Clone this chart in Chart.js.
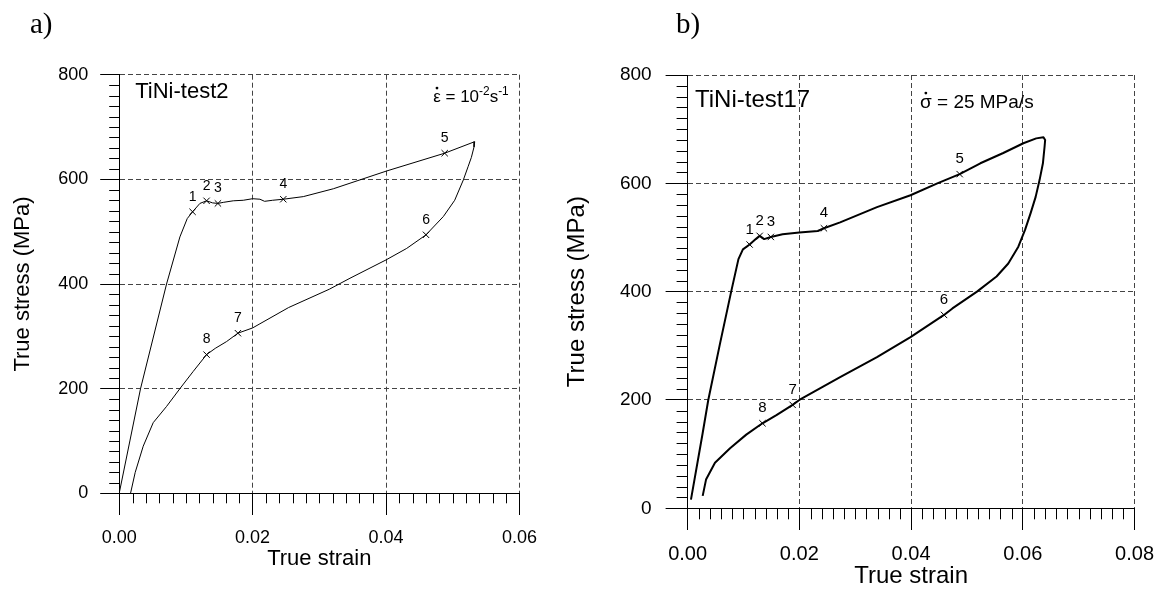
<!DOCTYPE html>
<html>
<head>
<meta charset="utf-8">
<script src="https://cdn.jsdelivr.net/npm/chart.js@4"></script>
<style>
  html, body { margin: 0; padding: 0; background: #fff; }
  body { width: 1166px; height: 591px; position: relative; overflow: hidden; }
  .panel { position: absolute; top: 0; height: 591px; }
</style>
</head>
<body>
<div class="panel" style="left:0;width:555px"><canvas id="chartA"></canvas></div>
<div class="panel" style="left:555px;width:611px"><canvas id="chartB"></canvas></div>
<script>
// values
const stressTicks = [0, 200, 400, 600, 800];
const strainTicksA = [0, 0.02, 0.04, 0.06];
const strainTicksB = [0, 0.02, 0.04, 0.06, 0.08];
const markLabels = ['1', '2', '3', '4', '5', '6', '7', '8'];

// TiNi-test2: loading then unloading loop
const strain2 = [0, 0.0016, 0.0032, 0.0071, 0.0091, 0.0102, 0.0110, 0.0121, 0.0131, 0.0140, 0.0148, 0.0156,
  0.0171, 0.0186, 0.0200, 0.0211, 0.0218, 0.0230, 0.0246, 0.0276, 0.0321, 0.0401, 0.0488, 0.0533,
  0.0532, 0.0528, 0.0523, 0.0516, 0.0503, 0.0486, 0.0460, 0.0431, 0.0400, 0.0346, 0.0315, 0.0254, 0.0211,
  0.0200, 0.0178, 0.0161, 0.0144, 0.0131, 0.0111, 0.0091, 0.0071, 0.0051, 0.0036, 0.0024, 0.0017];
const stress2 = [0, 100, 200, 400, 490, 525, 538, 554, 559, 555, 554, 556,
  559, 560, 563, 562, 558, 560, 562, 567, 582, 616, 650, 672,
  662, 642, 624, 599, 560, 529, 494, 468, 446, 411, 390, 355, 324,
  316, 306, 290, 277, 265, 233, 200, 166, 135, 90, 40, 0];
const markStrain2 = [0.0110, 0.0131, 0.0148, 0.0246, 0.0488, 0.0460, 0.0178, 0.0131];
const markStress2 = [538, 559, 554, 562, 650, 494, 306, 265];

// TiNi-test17
const strain17 = [0.0006, 0.0027, 0.0037, 0.0058, 0.0078, 0.0091, 0.0099, 0.0111, 0.0122, 0.0129, 0.0137,
  0.0149, 0.0170, 0.0200, 0.0233, 0.0244, 0.0273, 0.0339, 0.0399, 0.0447, 0.0487, 0.0524, 0.0565,
  0.0601, 0.0624, 0.0637, 0.0640, 0.0639, 0.0636, 0.0630, 0.0623, 0.0614, 0.0604, 0.0592, 0.0574,
  0.0553, 0.0518, 0.0474, 0.0459, 0.0399, 0.0339, 0.0273, 0.0200, 0.0188, 0.0159, 0.0134, 0.0105,
  0.0076, 0.0049, 0.0033, 0.0027];
const stress17 = [16, 139, 200, 304, 400, 460, 478, 487, 497, 503, 497,
  501, 506, 509, 512, 517, 528, 556, 578, 600, 617, 637, 656,
  674, 683, 685, 680, 668, 637, 606, 575, 545, 514, 483, 452,
  428, 400, 369, 357, 316, 279, 242, 200, 191, 172, 157, 136,
  111, 84, 53, 23];
const markStrain17 = [0.0111, 0.0129, 0.0149, 0.0244, 0.0487, 0.0459, 0.0188, 0.0134];
const markStress17 = [487, 503, 501, 517, 617, 357, 191, 157];

const FONT = "'Liberation Sans', Arial, sans-serif";
const SERIF = "'Liberation Serif', 'Times New Roman', serif";

const pts = (xs, ys) => xs.map((x, i) => ({ x, y: ys[i] }));

// minor ticks, panel tag, sample name, rate text, point numbers
const extras = {
  id: 'extras',
  afterDraw(chart, args, o) {
    const { ctx, chartArea: a, scales: { x, y } } = chart;
    ctx.save();
    ctx.strokeStyle = '#000';
    ctx.lineWidth = 1;
    ctx.beginPath();
    for (let k = 1; k < 40; k++) {
      if (k % 10 === 0) continue;
      const py = Math.round(y.getPixelForValue(k * 20)) + 0.5;
      ctx.moveTo(a.left - o.yMinor, py);
      ctx.lineTo(a.left, py);
    }
    const nx = Math.round(x.max / 0.002);
    for (let k = 1; k < nx; k++) {
      if (k % 10 === 0) continue;
      const px = Math.round(x.getPixelForValue(k * 0.002)) + 0.5;
      ctx.moveTo(px, a.bottom);
      ctx.lineTo(px, a.bottom + o.xMinor);
    }
    ctx.stroke();

    ctx.fillStyle = '#000';
    ctx.textBaseline = 'alphabetic';
    ctx.textAlign = 'left';
    ctx.font = `${o.tagSize}px ${SERIF}`;
    ctx.fillText(o.tag, o.tagX, 33);

    ctx.font = `${o.nameSize}px ${FONT}`;
    ctx.fillText(o.name, a.left + o.nameDx, a.top + o.nameDy);

    // rate text with dot accent and superscripts
    let cx = a.left + o.rateDx;
    const base = a.top + o.rateDy;
    o.rate.forEach(part => {
      const size = part.sup ? o.rateSize * 0.7 : o.rateSize;
      ctx.font = `${size}px ${FONT}`;
      const w = ctx.measureText(part.t).width;
      ctx.fillText(part.t, cx, part.sup ? base - o.rateSize * 0.42 : base);
      if (part.dot) {
        ctx.beginPath();
        ctx.arc(cx + w / 2, base - o.rateSize * 0.8, 1.4, 0, Math.PI * 2);
        ctx.fill();
      }
      cx += w;
    });

    ctx.font = `${o.markSize}px ${FONT}`;
    ctx.textAlign = 'center';
    ctx.textBaseline = 'middle';
    const meta = chart.getDatasetMeta(1);
    meta.data.forEach((el, i) => {
      ctx.fillText(markLabels[i], el.x, el.y - o.markDy);
    });
    ctx.restore();
  }
};

function makeChart(id, s) {
  return new Chart(document.getElementById(id), {
    type: 'scatter',
    data: {
      datasets: [
        {
          data: pts(s.strain, s.stress),
          showLine: true,
          borderColor: '#000',
          borderWidth: s.lineWidth,
          borderJoinStyle: 'round',
          pointRadius: 0,
          tension: 0,
        },
        {
          data: pts(s.markStrain, s.markStress),
          pointStyle: 'crossRot',
          pointRadius: 4.5,
          borderColor: '#000',
          backgroundColor: '#000',
          borderWidth: 1,
        },
      ],
    },
    options: {
      responsive: true,
      maintainAspectRatio: false,
      animation: false,
      devicePixelRatio: 1,
      layout: { padding: s.pad },
      plugins: { legend: { display: false }, tooltip: { enabled: false }, extras: s.extras },
      scales: {
        x: {
          type: 'linear',
          min: 0,
          max: s.xTicks[s.xTicks.length - 1],
          afterBuildTicks: sc => { sc.ticks = s.xTicks.map(value => ({ value })); },
          afterFit: sc => { sc.height = s.xHeight; },
          grid: { color: '#444', tickColor: '#000', tickLength: s.xTick, lineWidth: 1 },
          border: { display: true, color: '#000', width: 1, dash: [5, 3] },
          ticks: { color: '#000', padding: s.xPad, autoSkip: false, maxRotation: 0,
            font: { family: FONT, size: s.xFont }, callback: v => v.toFixed(2) },
          title: { display: true, text: 'True strain', color: '#000',
            font: { family: FONT, size: s.titleFont }, padding: { top: 0, bottom: s.xTitlePad } },
        },
        y: {
          type: 'linear',
          min: 0,
          max: 800,
          afterBuildTicks: sc => { sc.ticks = stressTicks.map(value => ({ value })); },
          afterFit: sc => { sc.width = s.yWidth; },
          grid: { color: '#444', tickColor: '#000', tickLength: s.yTick, lineWidth: 1 },
          border: { display: true, color: '#000', width: 1, dash: [5, 3] },
          ticks: { color: '#000', padding: s.yPad, font: { family: FONT, size: s.yFont } },
          title: { display: true, text: 'True stress (MPa)', color: '#000',
            font: { family: FONT, size: s.titleFont }, padding: { top: s.yTitlePad, bottom: 0 } },
        },
      },
    },
    plugins: [extras],
  });
}

makeChart('chartA', {
  strain: strain2, stress: stress2, markStrain: markStrain2, markStress: markStress2,
  xTicks: strainTicksA, lineWidth: 1,
  pad: { left: 0, top: 74.7, right: 35.6, bottom: 0 },
  yWidth: 119.2, xHeight: 97.7,
  xTick: 21.7, yTick: 19, xPad: 12, yPad: 12,
  xFont: 18, yFont: 18, titleFont: 22, xTitlePad: 19, yTitlePad: 10,
  extras: {
    yMinor: 10, xMinor: 10, tag: 'a)', tagX: 30, tagSize: 29,
    name: 'TiNi-test2', nameSize: 22, nameDx: 16, nameDy: 23.6,
    rate: [{ t: 'ε', dot: true }, { t: ' = 10' }, { t: '-2', sup: true }, { t: 's' }, { t: '-1', sup: true }],
    rateSize: 17, rateDx: 314, rateDy: 27,
    markSize: 14, markDy: 15,
  },
});

makeChart('chartB', {
  strain: strain17, stress: stress17, markStrain: markStrain17, markStress: markStress17,
  xTicks: strainTicksB, lineWidth: 2,
  pad: { left: 0, top: 75, right: 26.6, bottom: 0 },
  yWidth: 132.6, xHeight: 82.7,
  xTick: 21.7, yTick: 22, xPad: 12, yPad: 14,
  xFont: 20, yFont: 19, titleFont: 24, xTitlePad: 0, yTitlePad: 8,
  extras: {
    yMinor: 11, xMinor: 11, tag: 'b)', tagX: 121, tagSize: 29,
    name: 'TiNi-test17', nameSize: 24, nameDx: 7.4, nameDy: 31.7,
    rate: [{ t: 'σ', dot: true }, { t: ' = 25 MPa/s' }],
    rateSize: 19, rateDx: 232.4, rateDy: 33.3,
    markSize: 15, markDy: 15,
  },
});
</script>
</body>
</html>
